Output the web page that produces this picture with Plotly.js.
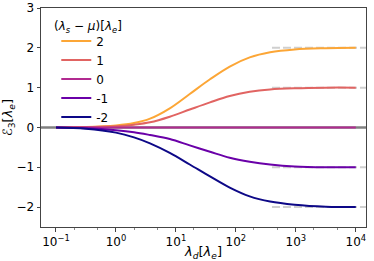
<!DOCTYPE html>
<html>
<head>
<meta charset="utf-8">
<script src="https://cdn.plot.ly/plotly-3.0.1.min.js"></script>
<style>html,body{margin:0;padding:0;background:#fff}#chart{width:374px;height:261px}</style>
</head>
<body>
<div id="chart"></div>
<script>
// lambda_d sample points
const lambdaD = [0.1, 0.316, 1, 2, 3.7, 7.9, 17, 37, 79, 170, 372, 955, 3162, 10000];
// E3 values for each (lambda_s - mu) value
const seriesNames = ['2', '1', '0', '-1', '-2'];
const valsP2 = [0, 0.01, 0.05, 0.11, 0.22, 0.48, 0.84, 1.21, 1.53, 1.76, 1.89, 1.96, 1.99, 2.0];
const valsP1 = [0, 0.01, 0.03, 0.07, 0.13, 0.27, 0.45, 0.63, 0.79, 0.895, 0.955, 0.985, 1.0, 1.0];
const valsZ  = [0, 0, 0, 0, 0, 0, 0, 0, 0, 0, 0, 0, 0, 0];
const valsM1 = [0, -0.02, -0.07, -0.12, -0.19, -0.29, -0.45, -0.61, -0.76, -0.86, -0.93, -0.98, -1.0, -1.0];
const valsM2 = [0, -0.03, -0.13, -0.25, -0.40, -0.64, -0.93, -1.23, -1.51, -1.73, -1.86, -1.94, -1.99, -2.0];
const colors = ['#fca636', '#e16462', '#b12a90', '#6a00a8', '#0d0887'];
const legendTitle = '(<i>\u03bb<sub>s</sub></i> \u2212 <i>\u03bc</i>)[<i>\u03bb<sub>e</sub></i>]';
// asymptote reference levels
const asymptotes = [2, 1, -1, -2];
const asymStart = 400;
const xEnd = Math.pow(10, 4.17);
const xStart = Math.pow(10, -1.25);
// axis ticks
const xTickVals = [0.1, 1, 10, 100, 1000, 10000];
const xTickText = ['10<sup>\u22121</sup>', '10<sup>0</sup>', '10<sup>1</sup>', '10<sup>2</sup>', '10<sup>3</sup>', '10<sup>4</sup>'];
const yTickVals = [-2, -1, 0, 1, 2, 3];
const yTickText = ['\u22122', '\u22121', '0', '1', '2', '3'];

const traces = [];
traces.push({x: [xStart, xEnd], y: [0, 0], mode: 'lines', line: {color: '#808080', width: 2.5}, showlegend: false, hoverinfo: 'skip'});
asymptotes.forEach(a => {
  traces.push({x: [asymStart, xEnd], y: [a, a], mode: 'lines', line: {color: '#cfcfcf', width: 2, dash: '8px,3px'}, showlegend: false, hoverinfo: 'skip'});
});
const allVals = [valsP2, valsP1, valsZ, valsM1, valsM2];
allVals.forEach((v, i) => {
  traces.push({x: lambdaD, y: v, mode: 'lines', name: seriesNames[i], line: {color: colors[i], width: 2, shape: 'spline', smoothing: 1}});
});

const font = {family: 'DejaVu Sans', size: 12, color: '#000'};
const layout = {
  width: 374, height: 261,
  margin: {l: 41, r: 8, t: 8, b: 34, pad: 0},
  paper_bgcolor: '#fff', plot_bgcolor: '#fff',
  font: font,
  showlegend: true,
  legend: {
    x: 0.047, xanchor: 'left', y: 0.915, yanchor: 'top',
    bgcolor: 'rgba(0,0,0,0)', borderwidth: 0,
    font: font, itemwidth: 30
  },
  annotations: [{
    text: legendTitle, xref: 'paper', yref: 'paper', x: 0.033, y: 0.915,
    xanchor: 'left', yanchor: 'middle', showarrow: false, font: font
  }],
  xaxis: {
    type: 'log', range: [-1.25, 4.17],
    tickvals: xTickVals, ticktext: xTickText,
    ticks: 'outside', ticklen: 3.5, tickwidth: 1, tickcolor: '#444',
    showline: true, linecolor: '#444', linewidth: 1, mirror: true,
    showgrid: false, zeroline: false,
    minor: {ticks: 'outside', ticklen: 2, tickcolor: '#888', showgrid: false},
    title: {text: '<i>\u03bb<sub>d</sub></i>[<i>\u03bb<sub>e</sub></i>]', font: {family: 'DejaVu Sans', size: 13, color: '#000'}, standoff: 6}
  },
  yaxis: {
    range: [-2.5, 3],
    tickvals: yTickVals, ticktext: yTickText,
    ticks: 'outside', ticklen: 3.5, tickwidth: 1, tickcolor: '#444',
    showline: true, linecolor: '#444', linewidth: 1, mirror: true,
    showgrid: false, zeroline: false,
    title: {text: '\u2130<sub>3</sub>[<i>\u03bb<sub>e</sub></i>]', font: {family: 'DejaVu Sans', size: 13, color: '#000'}, standoff: 5}
  }
};
Plotly.newPlot('chart', traces, layout, {displayModeBar: false, staticPlot: true});
</script>
</body>
</html>
